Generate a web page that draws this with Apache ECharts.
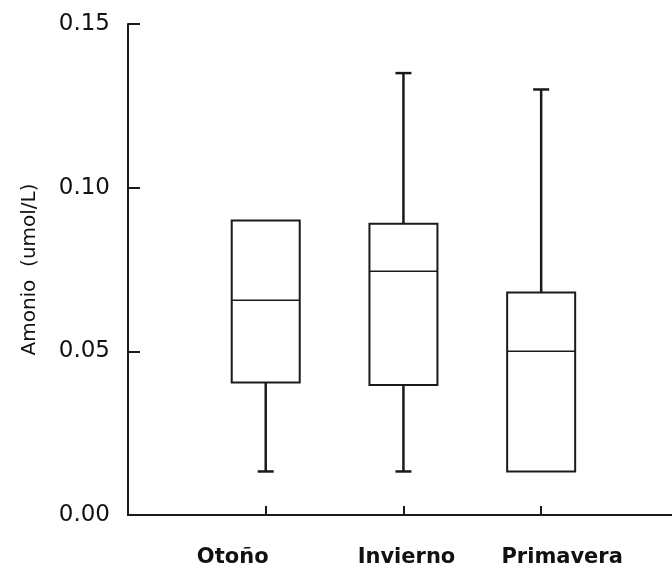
<!DOCTYPE html>
<html>
<head>
<meta charset="utf-8">
<script src="https://cdn.jsdelivr.net/npm/echarts@6/dist/echarts.min.js"></script>
<style>html,body{margin:0;padding:0;background:#fff}#c{width:672px;height:573px}</style>
</head>
<body>
<div id="c"></div>
<script>
// Data
var categories = ['Otoño', 'Invierno', 'Primavera'];
var categoryPos = [1, 2, 3];
var minVals = [0.0133, 0.0133, 0.0133];
var q1Vals = [0.0405, 0.0397, 0.0133];
var medianVals = [0.0656, 0.0745, 0.0500];
var q3Vals = [0.0900, 0.0890, 0.0680];
var maxVals = [0.0900, 0.1350, 0.1300];
var yTicks = [0, 0.05, 0.10, 0.15];

var seriesData = categories.map(function (c, i) {
  return [categoryPos[i], minVals[i], q1Vals[i], medianVals[i], q3Vals[i], maxVals[i]];
});

var chart = echarts.init(document.getElementById('c'));
var lineColor = '#1a1a1a';

function renderItem(params, api) {
  var x = api.value(0);
  var pMin = api.coord([x, api.value(1)]);
  var pQ1 = api.coord([x, api.value(2)]);
  var pMed = api.coord([x, api.value(3)]);
  var pQ3 = api.coord([x, api.value(4)]);
  var pMax = api.coord([x, api.value(5)]);
  var half = 34;
  var cap = 8;
  var cx = pMed[0];
  var children = [
    { type: 'rect', shape: { x: cx - half, y: pQ3[1], width: half * 2, height: pQ1[1] - pQ3[1] },
      style: { fill: '#fff', stroke: lineColor, lineWidth: 2 } },
    { type: 'line', shape: { x1: cx - half, y1: pMed[1], x2: cx + half, y2: pMed[1] },
      style: { stroke: lineColor, lineWidth: 1.5 } }
  ];
  if (pMax[1] < pQ3[1] - 0.5) {
    children.push({ type: 'line', shape: { x1: cx, y1: pQ3[1], x2: cx, y2: pMax[1] }, style: { stroke: lineColor, lineWidth: 2.5 } });
    children.push({ type: 'line', shape: { x1: cx - cap, y1: pMax[1], x2: cx + cap, y2: pMax[1] }, style: { stroke: lineColor, lineWidth: 2.5 } });
  }
  if (pMin[1] > pQ1[1] + 0.5) {
    children.push({ type: 'line', shape: { x1: cx, y1: pQ1[1], x2: cx, y2: pMin[1] }, style: { stroke: lineColor, lineWidth: 2.5 } });
    children.push({ type: 'line', shape: { x1: cx - cap, y1: pMin[1], x2: cx + cap, y2: pMin[1] }, style: { stroke: lineColor, lineWidth: 2.5 } });
  }
  return { type: 'group', children: children };
}

var labelBase = { fontFamily: 'DejaVu Sans', fontWeight: 'bold', fontSize: 21, color: '#111' };

chart.setOption({
  backgroundColor: '#fff',
  animation: false,
  grid: { left: 128, top: 24, width: 545, height: 491 },
  xAxis: {
    type: 'value',
    min: 0,
    max: 3.95,
    splitLine: { show: false },
    axisLine: { show: true, onZero: false, lineStyle: { color: lineColor, width: 2 } },
    axisTick: { show: true, inside: true, length: 9, customValues: categoryPos, lineStyle: { color: lineColor, width: 2 } },
    axisLabel: {
      customValues: categoryPos,
      margin: 32,
      formatter: function (v) {
        var i = categoryPos.indexOf(v);
        return i < 0 ? '' : '{c' + i + '|' + categories[i] + '}';
      },
      rich: {
        c0: Object.assign({ padding: [0, 66, 0, 0] }, labelBase),
        c1: Object.assign({ padding: [0, 0, 0, 6] }, labelBase),
        c2: Object.assign({ padding: [0, 0, 0, 42] }, labelBase)
      }
    }
  },
  yAxis: {
    type: 'value',
    min: 0,
    max: 0.15,
    interval: 0.05,
    name: 'Amonio  (umol/L)',
    nameLocation: 'middle',
    nameRotate: 90,
    nameGap: 88,
    nameTextStyle: { fontFamily: 'DejaVu Sans', fontSize: 20, color: '#111' },
    splitLine: { show: false },
    axisLine: { show: true, lineStyle: { color: lineColor, width: 2 } },
    axisTick: { show: true, inside: true, length: 12, lineStyle: { color: lineColor, width: 2 } },
    axisLabel: {
      margin: 18,
      fontFamily: 'DejaVu Sans',
      fontSize: 23,
      color: '#111',
      formatter: function (v) { return v.toFixed(2); }
    }
  },
  series: [{
    type: 'custom',
    renderItem: renderItem,
    encode: { x: 0, y: [1, 2, 3, 4, 5] },
    data: seriesData
  }]
});
</script>
</body>
</html>
